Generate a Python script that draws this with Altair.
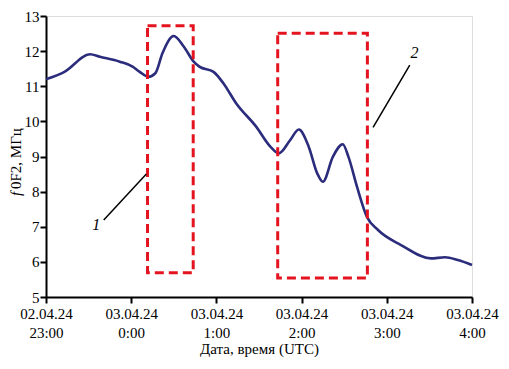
import altair as alt
import pandas as pd

# f0F2 curve (local time, 02.04.24 23:00 .. 03.04.24 04:00)
times = ["2024-04-02T23:00", "2024-04-02T23:13", "2024-04-02T23:31", "2024-04-02T23:38",
         "2024-04-02T23:52", "2024-04-03T00:01", "2024-04-03T00:06", "2024-04-03T00:12",
         "2024-04-03T00:17", "2024-04-03T00:22", "2024-04-03T00:30", "2024-04-03T00:37",
         "2024-04-03T00:44", "2024-04-03T00:48", "2024-04-03T00:58", "2024-04-03T01:05",
         "2024-04-03T01:14", "2024-04-03T01:28", "2024-04-03T01:38", "2024-04-03T01:44",
         "2024-04-03T01:52", "2024-04-03T01:58", "2024-04-03T02:05", "2024-04-03T02:11",
         "2024-04-03T02:15", "2024-04-03T02:22", "2024-04-03T02:29", "2024-04-03T02:33",
         "2024-04-03T02:39", "2024-04-03T02:46", "2024-04-03T02:54", "2024-04-03T03:10",
         "2024-04-03T03:31", "2024-04-03T03:41", "2024-04-03T03:50", "2024-04-03T04:00"]
f0f2 = [11.20, 11.41, 11.91, 11.84, 11.70, 11.56, 11.41, 11.27,
        11.37, 11.94, 12.43, 12.13, 11.70, 11.56, 11.41, 11.08,
        10.51, 9.85, 9.28, 9.09, 9.47, 9.77, 9.28, 8.52,
        8.28, 8.99, 9.35, 8.99, 8.14, 7.28, 6.90, 6.48,
        6.10, 6.13, 6.05, 5.91]

# dashed boxes
box_t1 = ["2024-04-03T00:11:30", "2024-04-03T01:43:10"]
box_t2 = ["2024-04-03T00:43:40", "2024-04-03T02:46:20"]
box_v1 = [5.69, 5.54]
box_v2 = [12.72, 12.51]

# callout leaders and labels
lead_t1 = ["2024-04-02T23:40:40", "2024-04-03T02:50:20"]
lead_t2 = ["2024-04-03T00:10:40", "2024-04-03T03:16:10"]
lead_v1 = [7.19, 9.83]
lead_v2 = [8.50, 11.60]
lab_t = ["2024-04-02T23:35:20", "2024-04-03T03:19:30"]
lab_v = [7.05, 11.94]
lab_txt = ["1", "2"]

tick_hours = [(2, 23), (3, 0), (3, 1), (3, 2), (3, 3), (3, 4)]
y_ticks = [5, 6, 7, 8, 9, 10, 11, 12, 13]

curve = pd.DataFrame({"t": times, "v": f0f2})
boxes = pd.DataFrame({"t1": box_t1, "t2": box_t2, "v1": box_v1, "v2": box_v2})
leads = pd.DataFrame({"t1": lead_t1, "t2": lead_t2, "v1": lead_v1, "v2": lead_v2})
labels = pd.DataFrame({"t": lab_t, "v": lab_v, "txt": lab_txt})

FONT = "Liberation Serif, Times New Roman, DejaVu Serif, serif"

xscale = alt.Scale(domain=[alt.DateTime(year=2024, month=4, date=2, hours=23),
                           alt.DateTime(year=2024, month=4, date=3, hours=4)])
yscale = alt.Scale(domain=[5, 13])

xaxis = alt.Axis(
    values=[alt.DateTime(year=2024, month=4, date=d, hours=h) for d, h in tick_hours],
    labelExpr="[timeFormat(datum.value, '%d.%m.%y'), timeFormat(datum.value, '%-H:%M')]",
    title="Дата, время (UTC)", grid=False, domainColor="black", domainWidth=2,
    tickColor="black", tickWidth=2, tickSize=6, labelPadding=3,
    labelFont=FONT, labelFontSize=15, labelColor="black", labelLineHeight=19,
    labelAngle=0, labelOverlap=False, labelFlush=False,
    titleFont=FONT, titleFontSize=15, titleFontWeight="normal", titleColor="black",
    titlePadding=1,
)
yaxis = alt.Axis(
    values=y_ticks, title=None, grid=False, labelOverlap=False,
    domainColor="black", domainWidth=2, tickColor="black", tickWidth=2, tickSize=6,
    labelPadding=1, labelFont=FONT, labelFontSize=15, labelColor="black",
)

line = alt.Chart(curve).mark_line(
    color="#2b2c7c", strokeWidth=2.6, interpolate="monotone"
).encode(
    x=alt.X("t:T", scale=xscale, axis=xaxis),
    y=alt.Y("v:Q", scale=yscale, axis=yaxis),
)

rects = alt.Chart(boxes).mark_rect(
    fillOpacity=0, stroke="#e3141f", strokeWidth=3, strokeDash=[9, 5]
).encode(
    x=alt.X("t1:T", scale=xscale, axis=xaxis), x2="t2:T",
    y=alt.Y("v1:Q", scale=yscale, axis=yaxis), y2="v2:Q",
)

rules = alt.Chart(leads).mark_rule(color="black", strokeWidth=1.5).encode(
    x=alt.X("t1:T", scale=xscale, axis=xaxis), x2="t2:T",
    y=alt.Y("v1:Q", scale=yscale, axis=yaxis), y2="v2:Q",
)

texts = alt.Chart(labels).mark_text(
    font=FONT, fontSize=16, fontStyle="italic", color="black"
).encode(
    x=alt.X("t:T", scale=xscale, axis=xaxis),
    y=alt.Y("v:Q", scale=yscale, axis=yaxis), text="txt:N",
)

ytitle_f = alt.Chart(pd.DataFrame({"s": ["f"]})).mark_text(
    font=FONT, fontSize=15, fontStyle="italic", color="black",
    angle=270, align="left", baseline="middle"
).encode(x=alt.value(-30), y=alt.value(180), text="s:N")

ytitle_rest = alt.Chart(pd.DataFrame({"s": ["0F2, МГц"]})).mark_text(
    font=FONT, fontSize=15, color="black",
    angle=270, align="left", baseline="middle"
).encode(x=alt.value(-30), y=alt.value(173), text="s:N")

chart = alt.layer(line, rects, rules, texts, ytitle_f, ytitle_rest).properties(
    width=426, height=281,
    autosize=alt.AutoSizeParams(type="none"),
    padding={"left": 38, "top": 8, "right": 29, "bottom": 62},
).configure_view(stroke="black", strokeWidth=2).configure(background="white")

chart.save("out.html", embed_options={"renderer": "svg", "actions": False})
